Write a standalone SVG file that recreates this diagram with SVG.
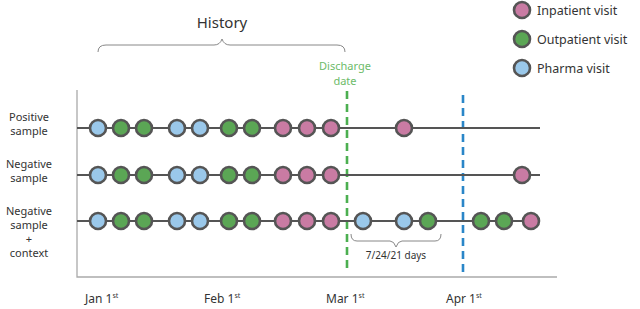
<svg xmlns="http://www.w3.org/2000/svg" width="640" height="309" viewBox="0 0 640 309">
<style>
text{font-family:"Noto Sans","Liberation Sans",sans-serif;fill:#333}
.lab{font-size:11px;text-anchor:middle}
.date{font-size:12px}
.sup{font-size:7px}
.leg{font-size:12.5px}
.tl{stroke:#555;stroke-width:2;fill:none}
.in{fill:#c97ba3;stroke:#555;stroke-width:2.6}
.out{fill:#5ba655;stroke:#555;stroke-width:2.6}
.ph{fill:#9ac8ea;stroke:#555;stroke-width:2.6}
.br{stroke:#888;stroke-width:1;fill:none}
</style>
<rect width="640" height="309" fill="#fff"/>
<g id="axes">
<path d="M77 90 V277 H557" stroke="#aaa" stroke-width="1.3" fill="none"/>
</g>
<g id="legend">
<circle class="in" cx="522" cy="10" r="8"/>
<text class="leg" x="537" y="14.5">Inpatient visit</text>
<circle class="out" cx="522" cy="39" r="8"/>
<text class="leg" x="537" y="43.5">Outpatient visit</text>
<circle class="ph" cx="522" cy="68" r="8"/>
<text class="leg" x="537" y="72.5">Pharma visit</text>
</g>
<g id="history">
<text x="222" y="28" font-size="15" text-anchor="middle">History</text>
<path class="br" d="M98 52 Q98 45 106 45 L214 45 Q220 45 222 39 Q224 45 230 45 L337 45 Q345 45 345 52"/>
</g>
<g id="discharge">
<text x="345" y="70" font-size="11" text-anchor="middle" style="fill:#6dbb6a">Discharge</text>
<text x="345" y="85" font-size="11" text-anchor="middle" style="fill:#6dbb6a">date</text>
<line x1="347" y1="91" x2="347" y2="272" stroke="#4caf50" stroke-width="2.6" stroke-dasharray="8 5"/>
</g>
<g id="cutoff">
<line x1="463" y1="95" x2="463" y2="272" stroke="#2a86c8" stroke-width="2.6" stroke-dasharray="8 5"/>
</g>
<g id="row-labels">
<text class="lab" x="29" y="121">Positive</text>
<text class="lab" x="29" y="135">sample</text>
<text class="lab" x="29" y="168">Negative</text>
<text class="lab" x="29" y="182">sample</text>
<text class="lab" x="29" y="215">Negative</text>
<text class="lab" x="29" y="229">sample</text>
<text class="lab" x="29" y="243">+</text>
<text class="lab" x="29" y="257">context</text>
</g>
<g id="connectors">
<line class="tl" x1="77" y1="128" x2="540" y2="128"/>
<line class="tl" x1="77" y1="175" x2="540" y2="175"/>
<line class="tl" x1="77" y1="221" x2="540" y2="221"/>
</g>
<g id="row-positive">
<circle class="ph" cx="98" cy="128" r="8"/>
<circle class="out" cx="121" cy="128" r="8"/>
<circle class="out" cx="144" cy="128" r="8"/>
<circle class="ph" cx="177" cy="128" r="8"/>
<circle class="ph" cx="200" cy="128" r="8"/>
<circle class="out" cx="229" cy="128" r="8"/>
<circle class="out" cx="252" cy="128" r="8"/>
<circle class="in" cx="283" cy="128" r="8"/>
<circle class="in" cx="307" cy="128" r="8"/>
<circle class="in" cx="331" cy="128" r="8"/>
<circle class="in" cx="404" cy="128" r="8"/>
</g>
<g id="row-negative">
<circle class="ph" cx="98" cy="175" r="8"/>
<circle class="out" cx="121" cy="175" r="8"/>
<circle class="out" cx="144" cy="175" r="8"/>
<circle class="ph" cx="177" cy="175" r="8"/>
<circle class="ph" cx="200" cy="175" r="8"/>
<circle class="out" cx="229" cy="175" r="8"/>
<circle class="out" cx="252" cy="175" r="8"/>
<circle class="in" cx="283" cy="175" r="8"/>
<circle class="in" cx="307" cy="175" r="8"/>
<circle class="in" cx="331" cy="175" r="8"/>
<circle class="in" cx="522" cy="175" r="8"/>
</g>
<g id="row-context">
<circle class="ph" cx="98" cy="221" r="8"/>
<circle class="out" cx="121" cy="221" r="8"/>
<circle class="out" cx="144" cy="221" r="8"/>
<circle class="ph" cx="177" cy="221" r="8"/>
<circle class="ph" cx="200" cy="221" r="8"/>
<circle class="out" cx="229" cy="221" r="8"/>
<circle class="out" cx="252" cy="221" r="8"/>
<circle class="in" cx="283" cy="221" r="8"/>
<circle class="in" cx="307" cy="221" r="8"/>
<circle class="in" cx="331" cy="221" r="8"/>
<circle class="ph" cx="363" cy="221" r="8"/>
<circle class="ph" cx="404" cy="221" r="8"/>
<circle class="out" cx="428" cy="221" r="8"/>
<circle class="out" cx="481" cy="221" r="8"/>
<circle class="out" cx="504" cy="221" r="8"/>
<circle class="in" cx="531" cy="221" r="8"/>
</g>
<g id="window">
<path class="br" d="M351 234 Q351 241 357 241 L390 241 Q394 241 396 247 Q398 241 402 241 L435 241 Q441 241 441 234"/>
<text x="396" y="259" font-size="10" text-anchor="middle">7/24/21 days</text>
</g>
<g id="dates">
<text class="date" x="85" y="303">Jan 1<tspan class="sup" dy="-5">st</tspan></text>
<text class="date" x="204" y="303">Feb 1<tspan class="sup" dy="-5">st</tspan></text>
<text class="date" x="326" y="303">Mar 1<tspan class="sup" dy="-5">st</tspan></text>
<text class="date" x="446" y="303">Apr 1<tspan class="sup" dy="-5">st</tspan></text>
</g>
</svg>
